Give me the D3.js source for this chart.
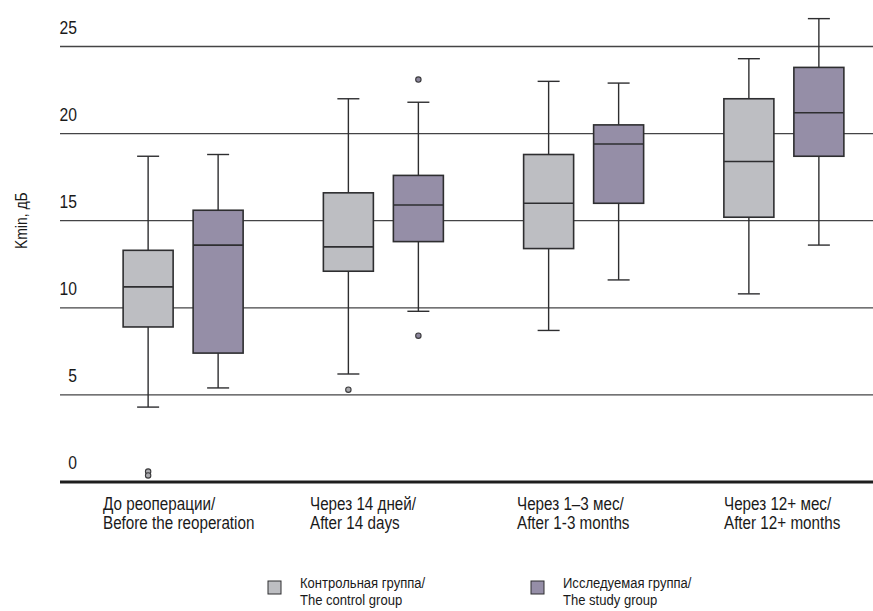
<!DOCTYPE html>
<html>
<head>
<meta charset="utf-8">
<script src="https://cdn.jsdelivr.net/npm/d3@7"></script>
<style>
  html, body { margin: 0; padding: 0; background: #ffffff; }
  svg { display: block; }
  text { font-family: "Liberation Sans", Arial, sans-serif; fill: #1a1a1a; }
</style>
</head>
<body>
<svg id="chart" width="873" height="611"></svg>
<script>
// ---------- DATA ----------
const categoriesRu = ["До реоперации/", "Через 14 дней/", "Через 1–3 мес/", "Через 12+ мес/"];
const categoriesEn = ["Before the reoperation", "After 14 days", "After 1-3 months", "After 12+ months"];
const seriesKeys = ["control", "study"];
const seriesNamesRu = ["Контрольная группа/", "Исследуемая группа/"];
const seriesNamesEn = ["The control group", "The study group"];
// [lower whisker, Q1, median, Q3, upper whisker]
const controlStats = [
  [4.3, 8.9, 11.2, 13.3, 18.7],
  [6.2, 12.1, 13.5, 16.6, 22.0],
  [8.7, 13.4, 16.0, 18.8, 23.0],
  [10.8, 15.2, 18.4, 22.0, 24.3]
];
const studyStats = [
  [5.4, 7.4, 13.6, 15.6, 18.8],
  [9.8, 13.8, 15.9, 17.6, 21.8],
  [11.6, 16.0, 19.4, 20.5, 22.9],
  [13.6, 18.7, 21.2, 23.8, 26.6]
];
const controlOutliers = [[0.6, 0.38], [5.3], [], []];
const studyOutliers = [[], [23.1, 8.4], [], []];
const yTicks = [0, 5, 10, 15, 20, 25];
const yTitle = "Kmin, дБ";

// ---------- STYLE ----------
const colors = { control: "#bdbec2", study: "#958ea7" };
const strokeCol = "#2e2e30";
const narrow = 0.87; // horizontal squeeze to imitate a condensed face

const svg = d3.select("#chart");
const W = 873, H = 611;

const y = d3.scaleLinear().domain([0, 25]).range([482, 46.5]);
const xGroup = d3.scaleBand().domain(d3.range(categoriesRu.length)).range([83, 884]).padding(0);
const xSub = d3.scalePoint().domain(seriesKeys).range([-35, 35]);
const xLabel = d3.scalePoint().domain(d3.range(categoriesRu.length)).range([103, 724]);
const boxW = 50, capW = 22;

const gridLeft = 60, gridRight = W;

// gridlines
svg.append("g").selectAll("line")
  .data(yTicks.filter(t => t > 0))
  .join("line")
  .attr("x1", gridLeft).attr("x2", gridRight)
  .attr("y1", d => y(d)).attr("y2", d => y(d))
  .attr("stroke", "#444446").attr("stroke-width", 1.3);

// tick labels
svg.append("g").selectAll("g")
  .data(yTicks)
  .join("g")
  .attr("transform", d => `translate(77, ${y(d) - 13}) scale(${narrow},1)`)
  .append("text")
  .attr("text-anchor", "end")
  .attr("font-size", 18)
  .text(d => d);

// y title
svg.append("text")
  .attr("transform", `translate(27, ${y(15)}) rotate(-90) scale(${narrow},1)`)
  .attr("text-anchor", "middle")
  .attr("font-size", 16)
  .text(yTitle);

// boxes
const allSeries = [
  { key: "control", stats: controlStats, outliers: controlOutliers },
  { key: "study", stats: studyStats, outliers: studyOutliers }
];

const boxesG = svg.append("g");
allSeries.forEach(s => {
  s.stats.forEach((st, i) => {
    const cx = xGroup(i) + xGroup.bandwidth() / 2 + xSub(s.key);
    const [lw, q1, med, q3, uw] = st;
    const g = boxesG.append("g");
    g.append("line").attr("x1", cx).attr("x2", cx).attr("y1", y(uw)).attr("y2", y(q3))
      .attr("stroke", strokeCol).attr("stroke-width", 1.4);
    g.append("line").attr("x1", cx).attr("x2", cx).attr("y1", y(q1)).attr("y2", y(lw))
      .attr("stroke", strokeCol).attr("stroke-width", 1.4);
    g.append("line").attr("x1", cx - capW / 2).attr("x2", cx + capW / 2).attr("y1", y(uw)).attr("y2", y(uw))
      .attr("stroke", strokeCol).attr("stroke-width", 1.4);
    g.append("line").attr("x1", cx - capW / 2).attr("x2", cx + capW / 2).attr("y1", y(lw)).attr("y2", y(lw))
      .attr("stroke", strokeCol).attr("stroke-width", 1.4);
    g.append("rect").attr("x", cx - boxW / 2).attr("y", y(q3))
      .attr("width", boxW).attr("height", y(q1) - y(q3))
      .attr("fill", colors[s.key]).attr("stroke", strokeCol).attr("stroke-width", 1.6);
    g.append("line").attr("x1", cx - boxW / 2).attr("x2", cx + boxW / 2).attr("y1", y(med)).attr("y2", y(med))
      .attr("stroke", strokeCol).attr("stroke-width", 1.6);
    g.selectAll("circle").data(s.outliers[i]).join("circle")
      .attr("cx", cx).attr("cy", d => y(d)).attr("r", 2.7)
      .attr("fill", s.key === "control" ? "#a9a9ad" : "#8c869c")
      .attr("stroke", "#3a3a3c").attr("stroke-width", 1.1);
  });
});

// baseline
svg.append("line").attr("x1", gridLeft).attr("x2", gridRight)
  .attr("y1", y(0)).attr("y2", y(0))
  .attr("stroke", "#1e1e1e").attr("stroke-width", 3);

// category labels
const catT = svg.append("g").selectAll("g")
  .data(d3.range(categoriesRu.length))
  .join("g")
  .attr("transform", i => `translate(${xLabel(i)}, 510) scale(${narrow},1)`)
  .append("text")
  .attr("font-size", 17.5);
catT.append("tspan").attr("x", 0).text(i => categoriesRu[i]);
catT.append("tspan").attr("x", 0).attr("dy", 19).text(i => categoriesEn[i]);

// legend
const legX = d3.scalePoint().domain(seriesKeys).range([268, 531]);
const leg = svg.append("g").selectAll("g").data(seriesKeys).join("g")
  .attr("transform", k => `translate(${legX(k)}, 581)`);
leg.append("rect").attr("x", 0).attr("y", 0).attr("width", 13).attr("height", 13)
  .attr("fill", k => colors[k]).attr("stroke", strokeCol).attr("stroke-width", 1);
const legT = leg.append("g").attr("transform", `translate(32, 7) scale(${narrow},1)`)
  .append("text").attr("font-size", 15);
legT.append("tspan").attr("x", 0).text((k, i) => seriesNamesRu[i]);
legT.append("tspan").attr("x", 0).attr("dy", 17).text((k, i) => seriesNamesEn[i]);
</script>
</body>
</html>
